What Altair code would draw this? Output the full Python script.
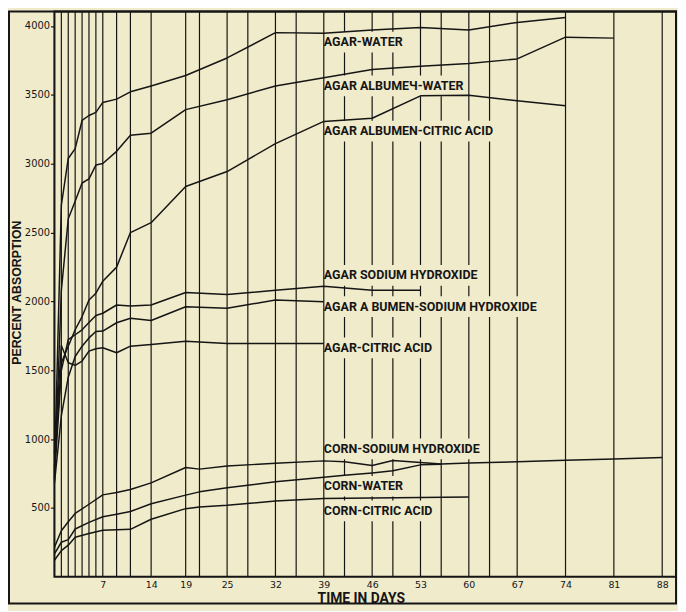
import altair as alt
import pandas as pd

# ---------------- data ----------------
grid_days = [0, 1, 2, 3, 4, 5, 6, 7, 9, 11, 14, 19, 21, 25, 28, 32, 35, 39, 42,
             46, 49, 53, 56, 60, 63, 67, 74, 81, 88]
x_tick_days = [7, 14, 19, 25, 32, 39, 46, 53, 60, 67, 74, 81, 88]
y_tick_values = [500, 1000, 1500, 2000, 2500, 3000, 3500, 4000]

agar_water_days = [0, 1, 2, 3, 4, 5, 6, 7, 9, 11, 14, 19, 25, 32, 39, 46, 53, 60, 67, 74]
agar_water_vals = [750, 2700, 3038, 3110, 3314, 3350, 3373, 3445, 3469, 3522, 3565, 3641,
                   3768, 3952, 3947, 3971, 3990, 3971, 4026, 4062]

agar_alb_water_days = [0, 1, 2, 3, 4, 5, 6, 7, 9, 11, 14, 19, 25, 32, 39, 46, 53, 60, 67, 74, 81]
agar_alb_water_vals = [700, 2080, 2600, 2727, 2860, 2890, 2990, 3002, 3090, 3206, 3222, 3393,
                       3464, 3565, 3624, 3684, 3708, 3727, 3761, 3919, 3912]

agar_alb_citric_days = [0, 1, 2, 3, 4, 5, 6, 7, 9, 11, 14, 19, 25, 32, 39, 46, 53, 60, 67, 74]
agar_alb_citric_vals = [800, 1555, 1675, 1794, 1890, 2010, 2060, 2147, 2249, 2500, 2572, 2835,
                        2943, 3146, 3307, 3330, 3493, 3498, 3457, 3421]

agar_naoh_days = [0, 1, 2, 3, 4, 5, 6, 7, 9, 11, 14, 19, 25, 32, 39, 46, 53]
agar_naoh_vals = [720, 1500, 1723, 1758, 1794, 1847, 1898, 1914, 1974, 1966, 1974, 2065,
                  2050, 2081, 2110, 2081, 2081]

agar_alb_naoh_days = [0, 1, 2, 3, 4, 5, 6, 7, 9, 11, 14, 19, 25, 32, 39]
agar_alb_naoh_vals = [680, 1170, 1450, 1600, 1675, 1735, 1782, 1785, 1845, 1878, 1861, 1961,
                      1950, 2010, 1997]

agar_citric_days = [0, 1, 2, 3, 4, 5, 6, 7, 9, 11, 14, 19, 25, 32, 39]
agar_citric_vals = [900, 1680, 1555, 1536, 1567, 1639, 1656, 1663, 1627, 1675, 1687, 1710,
                    1694, 1694, 1694]

corn_naoh_days = [0, 1, 2, 3, 5, 7, 9, 11, 14, 19, 21, 25, 32, 39, 42, 46, 49, 53, 56,
                  60, 67, 74, 81, 88]
corn_naoh_vals = [215, 335, 400, 460, 527, 595, 612, 634, 682, 794, 782, 804, 825, 842,
                  835, 808, 845, 830, 820, 826, 836, 846, 856, 866]

corn_water_days = [0, 1, 2, 3, 5, 7, 9, 11, 14, 19, 21, 25, 32, 39, 42, 46, 49, 53, 56]
corn_water_vals = [167, 251, 270, 347, 395, 436, 455, 474, 531, 593, 617, 646, 690, 723,
                   737, 754, 770, 813, 818]

corn_citric_days = [0, 1, 2, 3, 5, 7, 9, 11, 14, 19, 21, 25, 32, 39, 46, 53, 60]
corn_citric_vals = [120, 190, 230, 287, 315, 338, 342, 345, 418, 495, 507, 519, 550, 569,
                    573, 576, 579]

label_texts = ["AGAR-WATER", "AGAR ALBUMEЧ-WATER", "AGAR ALBUMEN-CITRIC ACID",
               "AGAR  SODIUM HYDROXIDE", "AGAR A BUMEN-SODIUM HYDROXIDE", "AGAR-CITRIC ACID",
               "CORN-SODIUM HYDROXIDE", "CORN-WATER", "CORN-CITRIC ACID"]
label_values = [3883, 3565, 3237, 2189, 1962, 1663, 929, 658, 479]
label_day = 39
label_box_end_days = [51.4, 59.5, 63.8, 62.1, 70.2, 54.9, 61.8, 50.6, 55.2]

# ---------------- tables ----------------
series_list = [
    ("Agar-water", agar_water_days, agar_water_vals),
    ("Agar albumen-water", agar_alb_water_days, agar_alb_water_vals),
    ("Agar albumen-citric acid", agar_alb_citric_days, agar_alb_citric_vals),
    ("Agar sodium hydroxide", agar_naoh_days, agar_naoh_vals),
    ("Agar albumen-sodium hydroxide", agar_alb_naoh_days, agar_alb_naoh_vals),
    ("Agar-citric acid", agar_citric_days, agar_citric_vals),
    ("Corn-sodium hydroxide", corn_naoh_days, corn_naoh_vals),
    ("Corn-water", corn_water_days, corn_water_vals),
    ("Corn-citric acid", corn_citric_days, corn_citric_vals),
]
rows = []
for name, ds, vs in series_list:
    for d, v in zip(ds, vs):
        rows.append({"series": name, "day": d, "value": v})
lines_df = pd.DataFrame(rows)

grid_df = pd.DataFrame({"day": grid_days})
labels_df = pd.DataFrame({
    "text": label_texts,
    "value": label_values,
    "day": [label_day] * len(label_texts),
    "box_start": [label_day + 0.25] * len(label_texts),
    "box_end": label_box_end_days,
    "box_lo": [v - 75 for v in label_values],
    "box_hi": [v + 75 for v in label_values],
})

BG = "#efebcb"
INK = "#151515"
LABEL_FONT = "Roboto, Liberation Sans, sans-serif"
NUM_FONT = "DejaVu Sans, Liberation Sans, sans-serif"

x_scale = alt.Scale(domain=[0, 90], nice=False, zero=False)
y_scale = alt.Scale(domain=[0, 4105], nice=False, zero=True)

x_axis = alt.Axis(values=x_tick_days, title="TIME IN DAYS", grid=False, domain=False,
                  ticks=False, labelPadding=3, labelFont=NUM_FONT, labelFontSize=9.5,
                  labelColor=INK, labelAngle=0, titleFont=LABEL_FONT, titleFontSize=14,
                  titleFontWeight="bold", titleColor=INK, titleX=310, titleY=15,
                  titleAlign="center", titleBaseline="top")
y_axis = alt.Axis(values=y_tick_values, title="PERCENT ABSORPTION", grid=False, domain=False,
                  ticks=True, tickSize=4, tickColor=INK, tickWidth=1.2, labelPadding=1,
                  labelFont=NUM_FONT, labelFontSize=10, labelColor=INK, format="d",
                  titleFont="Liberation Sans, Arial, sans-serif", titleFontSize=12.5,
                  titleFontWeight="bold", titleColor=INK, titleAngle=270, titleX=-38,
                  titleY=284, titleAlign="center", titleBaseline="middle")

grid = alt.Chart(grid_df).mark_rule(color=INK, strokeWidth=1.2).encode(
    x=alt.X("day:Q", scale=x_scale, axis=x_axis)
)

boxes = alt.Chart(labels_df).mark_rect(fill=BG, fillOpacity=1, strokeWidth=0).encode(
    x=alt.X("box_start:Q", scale=x_scale),
    x2="box_end:Q",
    y=alt.Y("box_lo:Q", scale=y_scale),
    y2="box_hi:Q",
)

curves = alt.Chart(lines_df).mark_line(color=INK, strokeWidth=1.5, strokeJoin="round").encode(
    x=alt.X("day:Q", scale=x_scale),
    y=alt.Y("value:Q", scale=y_scale, axis=y_axis),
    detail="series:N",
    order="day:Q",
)

labels = alt.Chart(labels_df).mark_text(
    align="left", baseline="middle", font=LABEL_FONT, fontSize=12.6, fontWeight="bold",
    color=INK
).encode(
    x=alt.X("day:Q", scale=x_scale),
    y=alt.Y("value:Q", scale=y_scale),
    text="text:N",
)

frame = alt.Chart(alt.Data(values=[{"k": 1}])).mark_rect(
    filled=False, stroke=INK, strokeWidth=2
).encode(
    x=alt.value(-46), x2=alt.value(629), y=alt.value(0), y2=alt.value(599)
)

chart = alt.layer(grid, boxes, curves, labels, frame).properties(
    width=629, height=572,
    autosize=alt.AutoSizeParams(type="none"),
    padding={"left": 47, "top": 0, "right": 2, "bottom": 31},
    background=BG,
).configure_view(stroke=INK, strokeWidth=2)

chart.save("out.html", embed_options={"renderer": "svg", "actions": False})
